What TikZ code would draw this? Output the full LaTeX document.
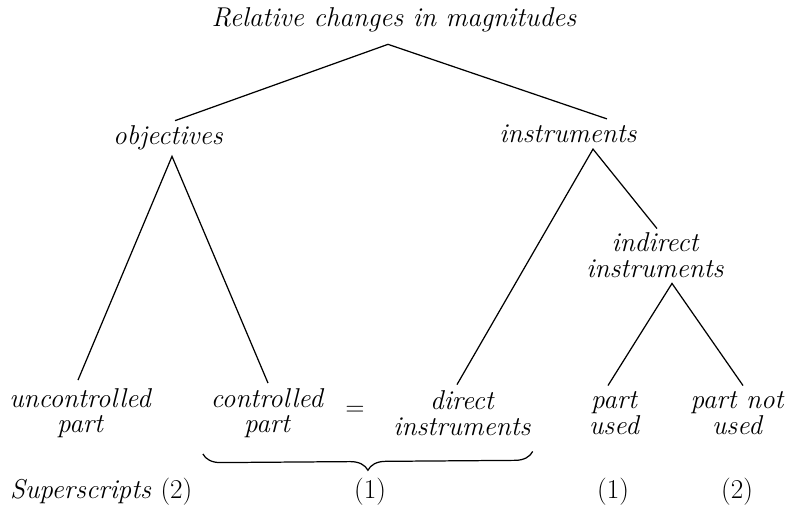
\documentclass[tikz,border=0pt]{standalone}
\usetikzlibrary{calc, positioning, decorations.pathreplacing}

\begin{document}
\begin{tikzpicture}[x=0.02cm, y=-0.02cm,
        lbl/.style={font=\fontsize{15.5}{14.5}\selectfont\itshape, align=center, inner sep=1pt},
        num/.style={font=\fontsize{15.5}{14.5}\selectfont, inner sep=1pt},
        branch/.style={line width=0.7pt}]

        \useasboundingbox (0,0) rectangle (795,511);

        % Top levels
        \node[lbl] (root) at (394,20)  {Relative changes in magnitudes};
        \node[lbl] (obj)  at (168,138) {objectives};
        \node[lbl] (inst) at (568,134) {instruments};
        \node[lbl] (ind)  at (655,255) {indirect\\instruments};

        % Leaves
        \node[lbl] (unc)  at (80,413)  {uncontrolled\\part};
        \node[lbl] (ctrl) at (267,413) {controlled\\part};
        \node[num] (eq)   at (355,411) {$=$};
        \node[lbl] (dir)  at (462,413) {direct\\instruments};
        \node[lbl] (used) at (614,413) {part\\used};
        \node[lbl] (nused) at (737,413) {part not\\used};

        % Superscripts
        \node[lbl, anchor=west] (sup) at (8,492) {Superscripts \upshape(2)};
        \node[num] (s1) at (370,492) {(1)};
        \node[num] (s2) at (613,492) {(1)};
        \node[num] (s3) at (737,492) {(2)};

        % Branches
        \coordinate (rootap) at ($(root.south)+(-6,10)$);
        \coordinate (instap) at ($(inst.south)+(25,4)$);
        \coordinate (indap)  at ($(ind.south)+(17,4)$);
        \draw[branch] ($(obj.north)+(7,-3)$) -- (rootap) -- ($(inst.north)+(39,-4)$);
        \draw[branch] ($(unc.north)+(-2,-6)$) -- ($(obj.south)+(4,4)$) -- ($(ctrl.north)+(1,-3)$);
        \draw[branch] ($(dir.north)+(-5,-4)$) -- (instap) -- ($(ind.north)+(2,-2)$);
        \draw[branch] ($(used.north)+(-6,-4)$) -- (indap) -- ($(nused.north)+(6,-4)$);

        % Brace under controlled part = direct instruments
        \coordinate (bl) at ($(ctrl.south west)+(-6,14)$);
        \coordinate (br) at ($(dir.south east)+(0,14)$);
        \draw[branch, decorate, decoration={brace, mirror, amplitude=10pt}] (bl) -- (br);
      \end{tikzpicture}
\end{document}
